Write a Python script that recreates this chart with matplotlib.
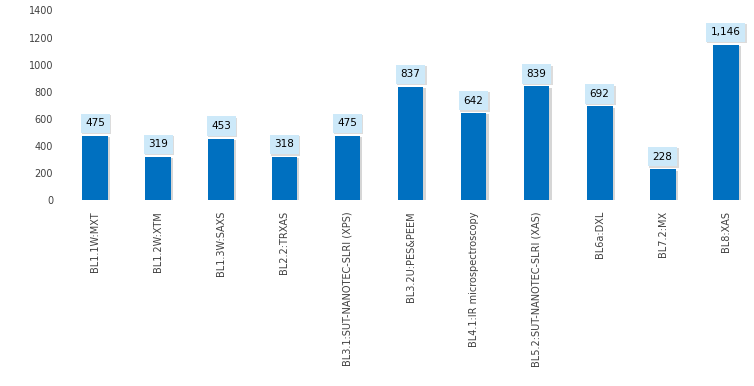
import matplotlib
matplotlib.use("Agg")
import matplotlib.pyplot as plt
import matplotlib.patheffects as pe

beamlines = ["BL1.1W:MXT", "BL1.2W:XTM", "BL1.3W:SAXS", "BL2.2:TRXAS",
             "BL3.1:SUT-NANOTEC-SLRI (XPS)", "BL3.2U:PES&PEEM",
             "BL4.1:IR microspectroscopy", "BL5.2:SUT-NANOTEC-SLRI (XAS)",
             "BL6a:DXL", "BL7.2:MX", "BL8:XAS"]
users = [475, 319, 453, 318, 475, 837, 642, 839, 692, 228, 1146]
y_ticks = [0, 200, 400, 600, 800, 1000, 1200, 1400]

fig = plt.figure(figsize=(7.54, 3.86), dpi=100)
ax = fig.add_axes([67 / 754, 186 / 386, 687 / 754, 189.5 / 386])

x = range(len(beamlines))
bars = ax.bar(x, users, width=0.41, color="#0070C0", zorder=2)
for b in bars:
    b.set_path_effects([pe.SimplePatchShadow(offset=(1.5, -1), shadow_rgbFace="#8c8c8c", alpha=0.35),
                        pe.Normal()])

for i, v in enumerate(users):
    t = ax.annotate(f"{v:,}", (i, v), xytext=(0, 9), textcoords="offset points",
                    ha="center", va="center", fontsize=7.5, color="black",
                    bbox=dict(boxstyle="square,pad=0.45", fc="#CDE9F9", ec="none"),
                    zorder=3)
    t.get_bbox_patch().set_path_effects([
        pe.SimplePatchShadow(offset=(1, -1), shadow_rgbFace="#8c8c8c", alpha=0.3), pe.Normal()])

ax.set_xlim(-0.45, 10.45)
ax.set_ylim(0, 1400)
ax.set_yticks(y_ticks)
ax.set_yticklabels([str(t) for t in y_ticks])
ax.set_xticks(list(x))
ax.set_xticklabels(beamlines, rotation=90)
ax.tick_params(axis="both", length=0, labelsize=7, colors="#404040")
ax.tick_params(axis="x", pad=8)
ax.tick_params(axis="y", pad=10)
for s in ax.spines.values():
    s.set_visible(False)

fig.savefig("out.png", dpi=100)
